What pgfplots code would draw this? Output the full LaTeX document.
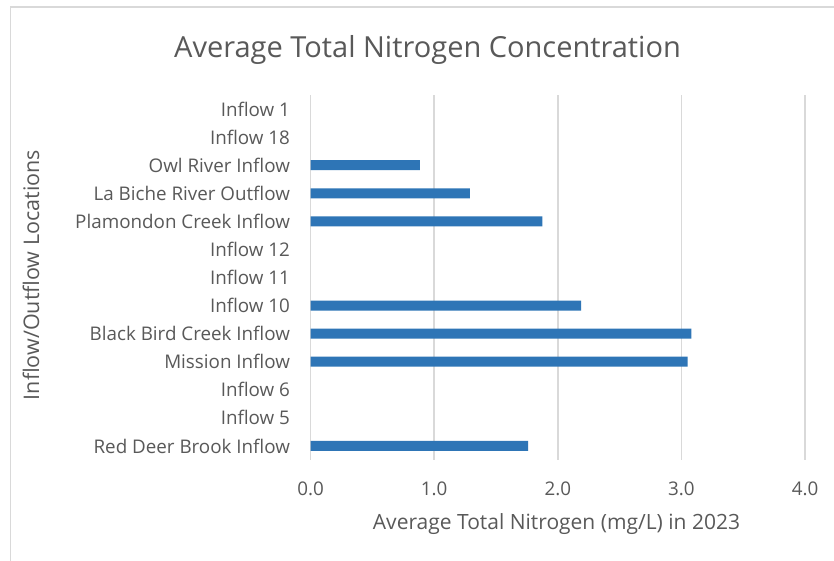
\documentclass[border=0pt]{standalone}
\usepackage{pgfplots}
\pgfplotsset{compat=1.18}
\usepackage{fontspec}
\setmainfont{Open Sans}
\definecolor{barblue}{HTML}{2E75B6}
\definecolor{gridgray}{HTML}{D9D9D9}
\definecolor{txtgray}{HTML}{595959}
\begin{document}
\begin{tikzpicture}[x=1pt,y=1pt]
\useasboundingbox (0,0) rectangle (834,561);
\fill[white] (0,0) rectangle (834,561);
\draw[gridgray,line width=1.5pt] (10.5,0) -- (10.5,554) -- (834,554);
\begin{axis}[
  at={(310.5pt,101pt)}, anchor=south west,
  scale only axis, width=494.5pt, height=365pt,
  xbar, bar width=10pt,
  xmin=0, xmax=4, ymin=-0.5, ymax=12.5,
  xtick={0,1,2,3,4},
  xticklabel={\pgfmathprintnumber[fixed,fixed zerofill,precision=1]{\tick}},
  /pgf/number format/assume math mode=true,
  ytick={0,...,12},
  yticklabels={Red Deer Brook Inflow,Inflow 5,Inflow 6,Mission Inflow,Black Bird Creek Inflow,Inflow 10,Inflow 11,Inflow 12,Plamondon Creek Inflow,La Biche River Outflow,Owl River Inflow,Inflow 18,Inflow 1},
  xmajorgrids, major grid style={gridgray,line width=1.5pt},
  axis line style={draw=none},
  major tick length=0pt,
  tick label style={font=\fontsize{18.8}{22}\selectfont, text=txtgray},
  xticklabel style={yshift=-18pt},
  yticklabel style={xshift=-17pt},
  clip=false,
]
\addplot[fill=barblue, draw=none] coordinates {
(1.76,0) (3.05,3) (3.08,4) (2.19,5) (1.875,8) (1.29,9) (0.885,10)
};
\end{axis}
\node[text=txtgray, font=\fontsize{29}{34}\selectfont] at (427.5,511) {Average Total Nitrogen Concentration};
\node[text=txtgray, font=\fontsize{21}{25}\selectfont] at (556.5,37) {Average Total Nitrogen (mg/L) in 2023};
\node[text=txtgray, font=\fontsize{21.5}{25}\selectfont, rotate=90] at (31,286) {Inflow/Outflow Locations};
\end{tikzpicture}
\end{document}
